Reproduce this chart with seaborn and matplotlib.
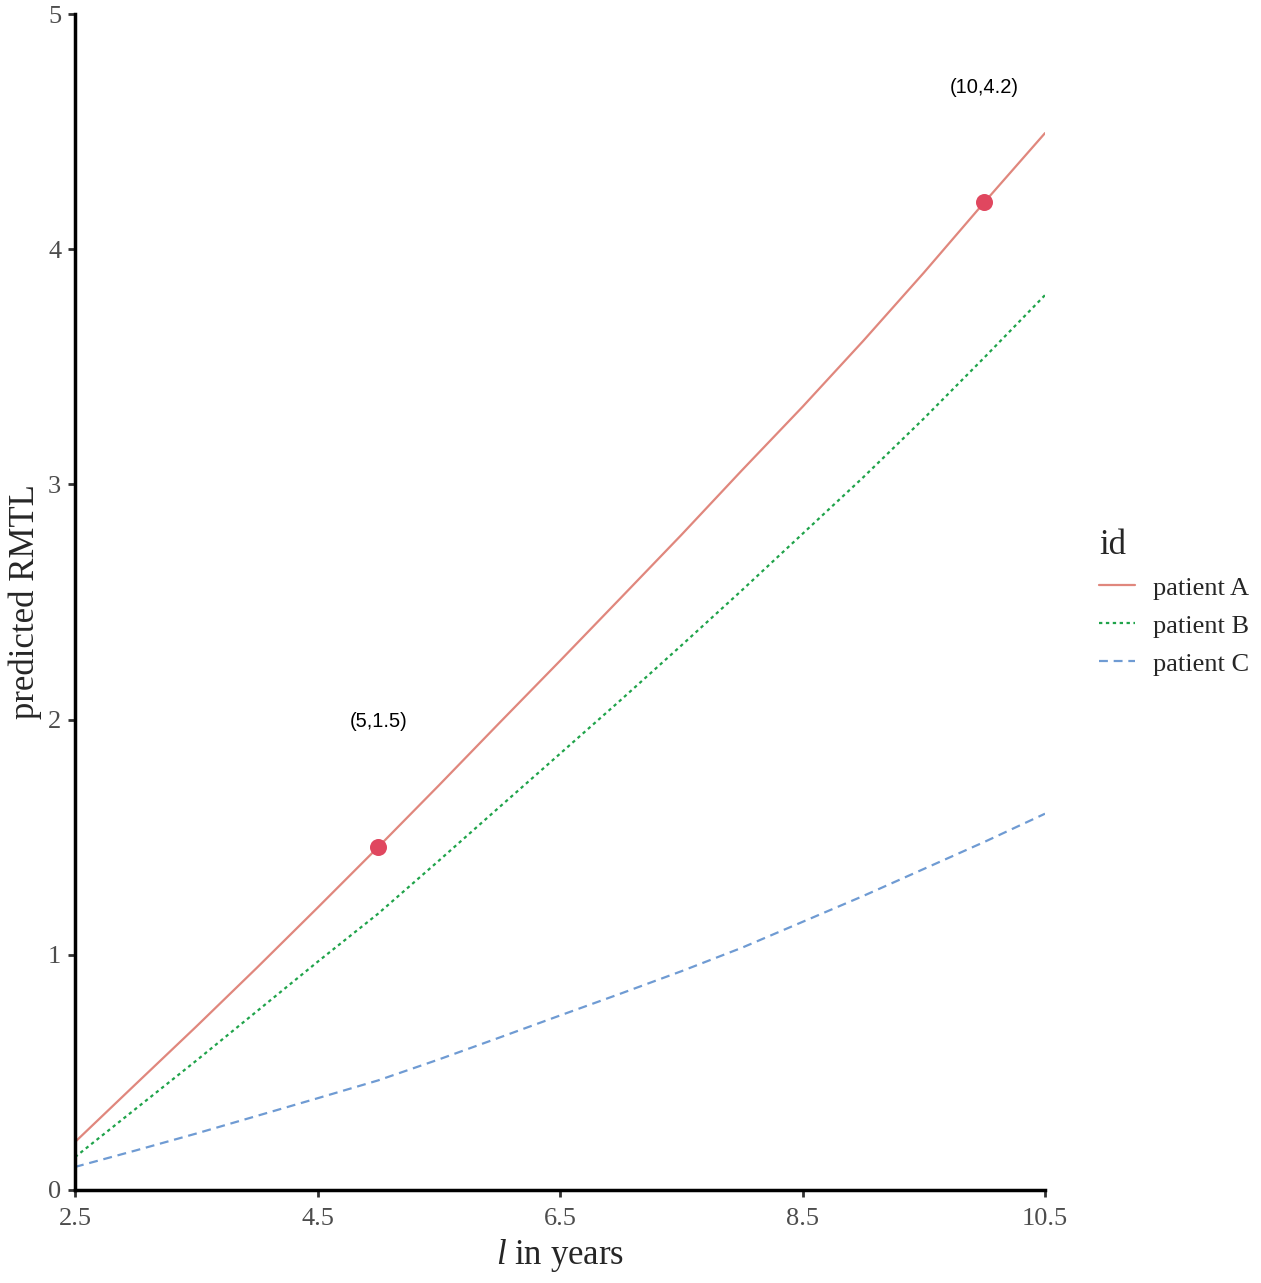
import pandas as pd
import matplotlib
matplotlib.use('Agg')
import matplotlib.pyplot as plt
import seaborn as sns

# -------------------------------
# Data
# -------------------------------
l_years = [2.5, 3.0, 3.5, 4.0, 4.5, 5.0, 5.5, 6.0, 6.5, 7.0, 7.5, 8.0, 8.5, 9.0, 9.5, 10.0, 10.5]
rmtl_a = [0.204, 0.45, 0.695, 0.945, 1.20, 1.458, 1.72, 1.986, 2.25, 2.517, 2.785, 3.06, 3.33, 3.61, 3.90, 4.20, 4.494]
rmtl_b = [0.14, 0.345, 0.55, 0.76, 0.97, 1.175, 1.40, 1.628, 1.855, 2.083, 2.315, 2.55, 2.79, 3.03, 3.28, 3.54, 3.805]
rmtl_c = [0.098, 0.168, 0.24, 0.315, 0.39, 0.466, 0.555, 0.648, 0.742, 0.835, 0.93, 1.03, 1.14, 1.25, 1.365, 1.48, 1.60]
patients = ['patient A', 'patient B', 'patient C']

point_x = [5, 10]
point_y = [1.458, 4.2]
label_y = [1.99, 4.69]
point_labels = ['(5,1.5)', '(10,4.2)']

x_ticks = [2.5, 4.5, 6.5, 8.5, 10.5]
y_ticks = [0, 1, 2, 3, 4, 5]

df = pd.DataFrame({
    'l': l_years * 3,
    'rmtl': rmtl_a + rmtl_b + rmtl_c,
    'id': [p for p in patients for _ in l_years],
})

# -------------------------------
# Style
# -------------------------------
sns.set_style('white')
plt.rcParams['font.family'] = ['Liberation Serif', 'DejaVu Serif']
plt.rcParams['mathtext.fontset'] = 'custom'
plt.rcParams['mathtext.rm'] = 'Liberation Serif'
plt.rcParams['mathtext.it'] = 'Liberation Serif:italic'

palette = {'patient A': '#E0877D', 'patient B': '#1FA34A', 'patient C': '#6F9BD3'}
dashes = {'patient A': '', 'patient B': (1.5, 1.6), 'patient C': (4, 2.6)}

fig = plt.figure(figsize=(12.61, 12.83), dpi=100)
ax = fig.add_axes([0.0595, 0.0725, 0.7692, 0.9165])

sns.lineplot(data=df, x='l', y='rmtl', hue='id', style='id',
             palette=palette, dashes=dashes, linewidth=1.6, ax=ax)

ax.scatter(point_x, point_y, s=150, color='#E0475F', zorder=5, linewidths=0)
for px, py, txt in zip(point_x, label_y, point_labels):
    ax.text(px, py, txt, ha='center', va='center', fontsize=14.5,
            family=['Liberation Sans', 'DejaVu Sans'], color='black')

ax.set_xlim(2.5, 10.5)
ax.set_ylim(0, 5)
ax.set_xticks(x_ticks)
ax.set_xticklabels([str(t) for t in x_ticks])
ax.set_yticks(y_ticks)
ax.tick_params(axis='both', which='major', direction='out', length=5, width=2,
               color='#333333', labelsize=19, labelcolor='#4D4D4D', pad=5,
               bottom=True, left=True)
ax.tick_params(axis='x', pad=8)

for side in ['top', 'right']:
    ax.spines[side].set_visible(False)
for side in ['left', 'bottom']:
    ax.spines[side].set_linewidth(2.5)
    ax.spines[side].set_color('black')

ax.set_xlabel('$l$ in years', fontsize=25, labelpad=5)
ax.set_ylabel('predicted RMTL', fontsize=25, labelpad=4)

handles, labels = ax.get_legend_handles_labels()
ax.legend(handles, labels, title='id', loc='center left',
          bbox_to_anchor=(1.045, 0.5), frameon=False, fontsize=19,
          title_fontsize=25, handlelength=1.35, handletextpad=0.7,
          labelspacing=0.55, alignment='left', borderaxespad=0)

plt.savefig('out.png', dpi=100)
plt.close()
